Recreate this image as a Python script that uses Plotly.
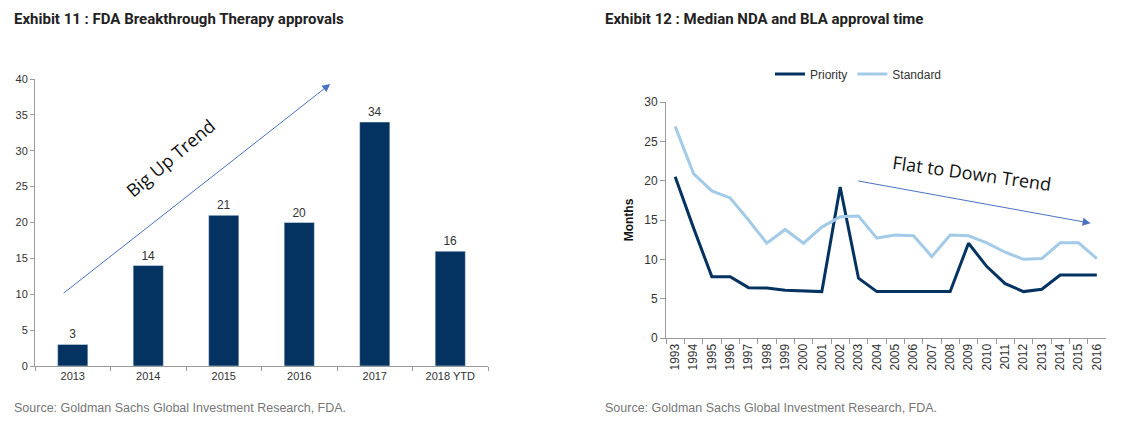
import plotly.graph_objects as go

# Exhibit 11 data
bar_categories = ["2013", "2014", "2015", "2016", "2017", "2018 YTD"]
bar_values = [3, 14, 21, 20, 34, 16]

# Exhibit 12 data
years = [str(y) for y in range(1993, 2017)]
priority = [20.5, 14.0, 7.8, 7.8, 6.4, 6.35, 6.07, 5.94, 5.9, 19.2, 7.6, 5.9,
            5.9, 5.9, 5.9, 5.9, 12.05, 9.08, 6.9, 5.9, 6.2, 8.0, 8.0, 8.0]
standard = [26.9, 20.9, 18.7, 17.8, 15.0, 12.05, 13.8, 12.05, 14.1, 15.4, 15.5, 12.7,
            13.1, 13.0, 10.35, 13.1, 13.0, 12.1, 10.9, 10.0, 10.1, 12.1, 12.1, 10.1]

W, H = 1139, 428
NAVY = "#053361"
LIGHT = "#a3cbe8"
ARROW = "#4a72c0"
TICKC = "#333333"
AXC = "#9a9a9a"

fig = go.Figure()
fig.add_trace(go.Bar(x=bar_categories, y=bar_values, marker_color=NAVY, width=0.4,
                     text=[str(v) for v in bar_values], textposition="outside",
                     textfont=dict(family="Liberation Sans, Arial", size=12, color=TICKC),
                     cliponaxis=False, showlegend=False, xaxis="x", yaxis="y"))
fig.add_trace(go.Scatter(x=years, y=priority, mode="lines", name="Priority",
                         line=dict(color=NAVY, width=3), xaxis="x2", yaxis="y2"))
fig.add_trace(go.Scatter(x=years, y=standard, mode="lines", name="Standard",
                         line=dict(color=LIGHT, width=3), xaxis="x2", yaxis="y2"))

tickfont_l = dict(family="Liberation Sans, Arial", size=11, color=TICKC)
tickfont_r = dict(family="Liberation Sans, Arial", size=12, color=TICKC)

fig.update_layout(
    width=W, height=H, margin=dict(l=0, r=0, t=0, b=0, autoexpand=False),
    paper_bgcolor="white", plot_bgcolor="white",
    bargap=0.6,
    xaxis=dict(domain=[35 / W, 488 / W], type="category", tickson="boundaries",
               ticks="outside", ticklen=4, tickcolor=AXC, showline=True, linecolor=AXC,
               showgrid=False, tickfont=tickfont_l, anchor="y", range=[-0.5, 5.5],
               automargin=False),
    yaxis=dict(domain=[1 - 366 / H, 1 - 79 / H], range=[0, 40], dtick=5,
               ticks="outside", ticklen=4, tickcolor=AXC, showline=True, linecolor=AXC,
               showgrid=False, zeroline=False, tickfont=tickfont_l, anchor="x",
               automargin=False),
    xaxis2=dict(domain=[666 / W, 1106 / W], type="category", tickson="boundaries",
                ticks="outside", ticklen=5, tickcolor=AXC, showline=True, linecolor=AXC,
                showgrid=False, tickfont=tickfont_r, tickangle=-90, anchor="y2",
                range=[-0.5, 23.5], automargin=False),
    yaxis2=dict(domain=[1 - 338 / H, 1 - 102 / H], range=[0, 30], dtick=5,
                ticks="outside", ticklen=5, tickcolor=AXC, showline=True, linecolor=AXC,
                showgrid=False, zeroline=False, tickfont=tickfont_r, anchor="x2",
                automargin=False,
                title=dict(text="<b>Months</b>", standoff=8,
                           font=dict(family="Liberation Sans, Arial", size=12, color="#111"))),
    legend=dict(orientation="h", x=770 / W, y=1 - 74 / H, xanchor="left", yanchor="middle",
                font=dict(family="Liberation Sans, Arial", size=12, color=TICKC),
                bgcolor="rgba(0,0,0,0)", itemwidth=30, tracegroupgap=0),
)

TITLE_FONT = dict(family="Liberation Sans Narrow, Roboto, Arial", size=15, color="#222")
SRC_FONT = dict(family="Liberation Sans Narrow, Arial", size=12.5, color="#777")
annots = [
    dict(text="<b>Exhibit 11 : FDA Breakthrough Therapy approvals</b>", x=12 / W, y=1 - 19 / H,
         xref="paper", yref="paper", xanchor="left", yanchor="middle", showarrow=False, font=TITLE_FONT),
    dict(text="<b>Exhibit 12 : Median NDA and BLA approval time</b>", x=603 / W, y=1 - 19 / H,
         xref="paper", yref="paper", xanchor="left", yanchor="middle", showarrow=False, font=TITLE_FONT),
    dict(text="Source: Goldman Sachs Global Investment Research, FDA.", x=12 / W, y=1 - 408 / H,
         xref="paper", yref="paper", xanchor="left", yanchor="middle", showarrow=False, font=SRC_FONT),
    dict(text="Source: Goldman Sachs Global Investment Research, FDA.", x=603 / W, y=1 - 408 / H,
         xref="paper", yref="paper", xanchor="left", yanchor="middle", showarrow=False, font=SRC_FONT),
    # arrows
    dict(x=3.41, y=39.3, ax=-0.14, ay=10.0, xref="x", yref="y", axref="x", ayref="y",
         showarrow=True, arrowhead=2, arrowsize=1.6, arrowwidth=1, arrowcolor=ARROW, text=""),
    dict(text="Big Up Trend", x=1.29, y=29.0, xref="x", yref="y", showarrow=False, textangle=-40,
         font=dict(family="Open Sans, Lato, sans-serif", size=18, color="#111")),
    dict(x=22.66, y=14.6, ax=9.9, ay=20.0, xref="x2", yref="y2", axref="x2", ayref="y2",
         showarrow=True, arrowhead=2, arrowsize=1.6, arrowwidth=1, arrowcolor=ARROW, text=""),
    dict(text="Flat to Down Trend", x=(972 - 666) / 18.35 - 0.5, y=(338 - 173) / 236 * 30,
         xref="x2", yref="y2", showarrow=False, textangle=8,
         font=dict(family="Open Sans, Lato, sans-serif", size=18, color="#111")),
]
fig.update_layout(annotations=annots)

fig.write_html("out.html", config={"displayModeBar": False},
               post_script="document.body.style.margin='0px';document.body.style.overflow='hidden';")
